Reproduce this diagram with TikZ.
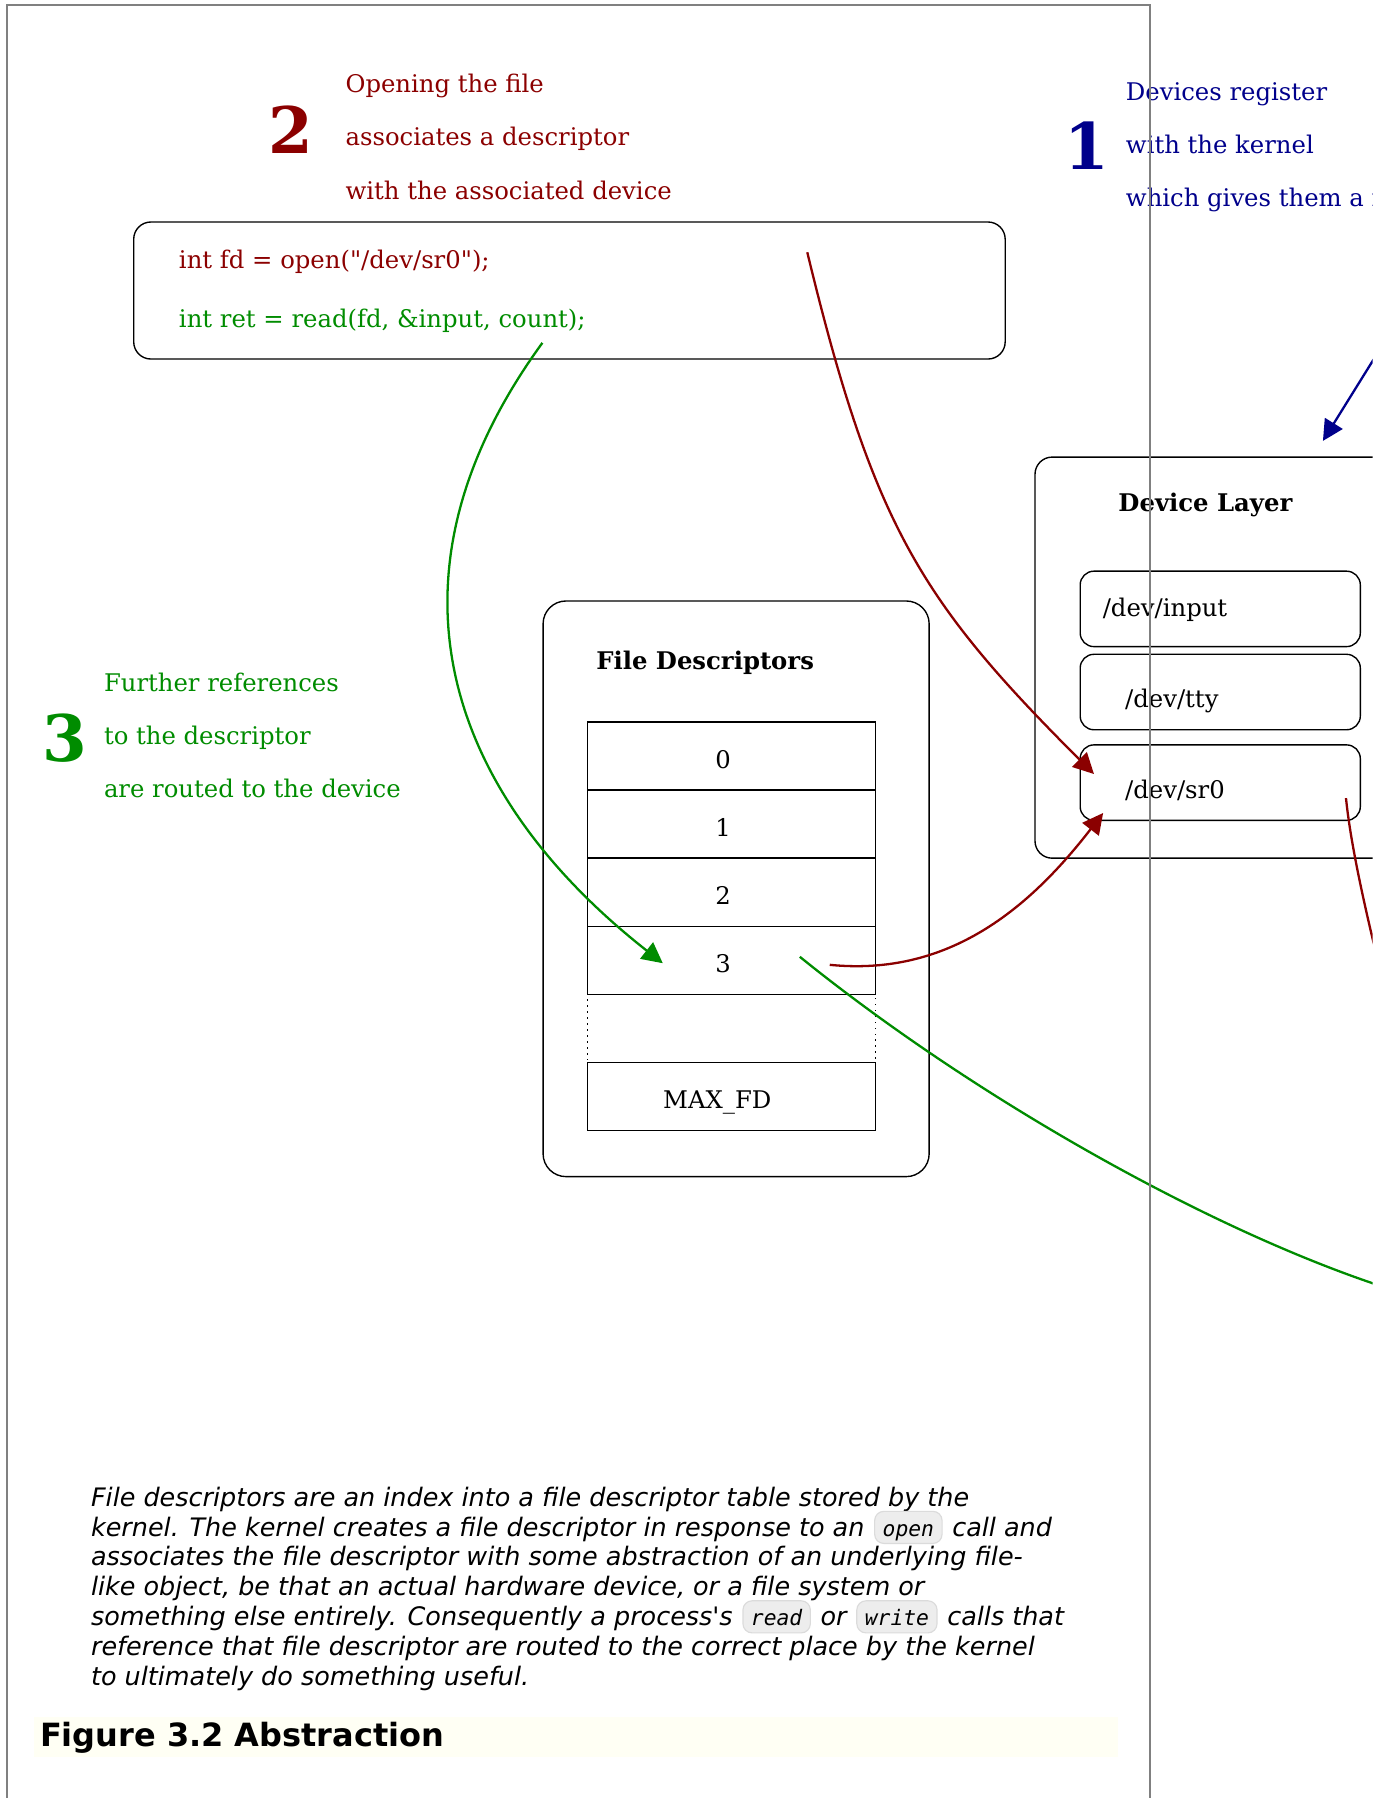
\documentclass[tikz,border=0pt]{standalone}
\usepackage{fontspec}
\setmainfont{DejaVu Serif}[Ligatures=TeXOff]
\setsansfont{DejaVu Sans}[Ligatures=TeXOff]
\setmonofont{DejaVu Sans Mono}[ItalicFont={DejaVu Sans Mono Oblique}]
\usetikzlibrary{arrows.meta}
\definecolor{openred}{HTML}{8B0000}
\definecolor{readgreen}{HTML}{008C00}
\definecolor{regblue}{HTML}{00008B}
\definecolor{framegray}{HTML}{808080}
\definecolor{captionbg}{HTML}{FFFFF4}

\begin{document}
\begin{tikzpicture}[x=0.5pt,y=-0.5pt,
  annot/.style={anchor=base west,inner sep=0pt,font=\fontsize{10.6}{12}\selectfont},
  title/.style={anchor=base west,inner sep=0pt,font=\fontsize{10.6}{12}\selectfont\bfseries},
  bignum/.style={anchor=base west,inner sep=0pt,font=\fontsize{28}{30}\selectfont\bfseries},
  panel/.style={draw,line width=0.6pt,anchor=north west,inner sep=0pt},
  devbox/.style={panel,rounded corners=6pt,minimum width=122.15pt,minimum height=32.9pt},
  fdrow/.style={draw,line width=0.6pt,minimum width=125.75pt,minimum height=29.7pt,inner sep=0pt,text height=10.7pt,text depth=0pt,font=\fontsize{10.6}{12}\selectfont},
  link/.style={line width=1pt,-{Triangle[length=9pt,width=9pt]}},
  para/.style={anchor=base west,inner sep=0pt,font=\sffamily\itshape\fontsize{11.1}{13}\selectfont},
  chip/.style={anchor=base west,draw=black!14,fill=black!7,line width=0.5pt,rounded corners=4pt,inner xsep=3.5pt,inner ysep=3.25pt,text height=7.5pt,text depth=0pt,font=\ttfamily\itshape\fontsize{9.3}{10}\selectfont}]
\useasboundingbox (0,0) rectangle (1197,1568);
\clip (0,0) rectangle (1197,1568);

\node[bignum,openred] (numopen) at (233.5,134) {2};
\foreach \t [count=\i from 0] in {Opening the file,associates a descriptor,with the associated device}
  \node[annot,openred] (open\i) at (301,{81+46.3*\i}) {\t};
\node[bignum,regblue] (numreg) at (928,147.6) {1};
\foreach \t [count=\i from 0] in {Devices register,with the kernel,which gives them a number}
  \node[annot,regblue] (reg\i) at (981.5,{88+46*\i}) {\t};
\node[bignum,readgreen] (numroute) at (37,663.7) {3};
\foreach \t [count=\i from 0] in {Further references,to the descriptor,are routed to the device}
  \node[annot,readgreen] (route\i) at (90.3,{603.4+46*\i}) {\t};

\node[panel,rounded corners=7.5pt,minimum width=380pt,minimum height=59.75pt] (code) at (116,193) {};
\node[annot,openred] (codeopen) at (155.7,234) {int fd = open("/dev/sr0");};
\node[annot,readgreen] (coderead) at (155.7,286) {int ret = read(fd, \&input, count);};

\node[panel,rounded corners=7.5pt,minimum width=209pt,minimum height=174.9pt] (devlayer) at (902,398) {};
\node[title] (devtitle) at (975,446) {Device Layer};
\node[devbox] (devinput) at (941.4,497.5) {};
\node[devbox] (devtty) at (941.4,570) {};
\node[devbox] (devsr) at (941.4,649) {};
\node[annot] (devinputname) at (961.3,538) {/dev/input};
\node[annot] (devttyname) at (980.8,617) {/dev/tty};
\node[annot] (devsrname) at (980.8,696) {/dev/sr0};

\node[panel,rounded corners=10pt,minimum width=168.35pt,minimum height=251pt] (fdtable) at (473,523.5) {};
\node[title] (fdtitle) at (519.6,583.5) {File Descriptors};
\foreach \i in {0,...,3}
  \node[fdrow] (fd\i) at (638,{659.3+59.4*\i}) {\i\kern7.5pt};
\node[fdrow,dotted] (fdgap) at (638,896.9) {};
\node[fdrow] (fdmax) at (638,956.3) {MAX\_FD\kern12.5pt};

\coordinate (openpt) at ([shift={(588,27)}]code.north west);
\coordinate (readpt) at ([shift={(357,106)}]code.north west);
\coordinate (fdin) at ([shift={(-60,2.5)}]fd3.center);
\coordinate (fdout) at ([shift={(85.6,3.9)}]fd3.center);
\coordinate (fdgo) at ([shift={(59.5,-3.1)}]fd3.center);
\coordinate (sropen) at ([shift={(12.6,26)}]devsr.north west);
\coordinate (srread) at ([shift={(20.6,60)}]devsr.north west);
\coordinate (srgo) at ([shift={(-13.1,47)}]devsr.north east);
\coordinate (regtip) at ([shift={(251.7,-13.5)}]devlayer.north west);
\coordinate (regfar) at (1223,273);
\coordinate (srfar) at (1212,880);
\coordinate (gofar) at (1215,1125);
\draw[link,openred] (openpt) .. controls +(58,240) and +(-150,-150) .. (sropen);
\draw[link,readgreen] (readpt) .. controls +(-153.4,210.6) and +(-181.7,-142.6) .. (fdin);
\draw[link,openred] (fdout) .. controls +(100,10) and +(-68,88) .. (srread);
\draw[line width=1pt,openred] (srgo) .. controls +(5,50) and +(-15,-60) .. (srfar);
\draw[line width=1pt,readgreen] (fdgo) .. controls +(156,126) and +(-152,-48) .. (gofar);
\draw[link,regblue] (regfar) -- (regtip);

\node[para] (par1) at (79,1313.5) {File descriptors are an index into a file descriptor table stored by the};
\node[para] (par2) at (79,1339.5) {kernel. The kernel creates a file descriptor in response to an};
\node[chip] (chipopen) at ([xshift=4pt]par2.base east) {open};
\node[para] (par2b) at ([xshift=4pt]chipopen.base east) {call and};
\node[para] (par3) at (79,1365.5) {associates the file descriptor with some abstraction of an underlying file-};
\node[para] (par4) at (79,1391.5) {like object, be that an actual hardware device, or a file system or};
\node[para] (par5) at (79,1417.5) {something else entirely. Consequently a process's};
\node[chip] (chipread) at ([xshift=4pt]par5.base east) {read};
\node[para] (par5b) at ([xshift=4pt]chipread.base east) {or};
\node[chip] (chipwrite) at ([xshift=4pt]par5b.base east) {write};
\node[para] (par5c) at ([xshift=4pt]chipwrite.base east) {calls that};
\node[para] (par6) at (79,1443.5) {reference that file descriptor are routed to the correct place by the kernel};
\node[para] (par7) at (79,1469.5) {to ultimately do something useful.};

\fill[captionbg] (30,1497) rectangle (975,1532);
\node[anchor=base west,inner sep=0pt,font=\sffamily\bfseries\fontsize{13.95}{16}\selectfont] (caption) at (34.5,1523) {Figure 3.2 Abstraction};

\draw[framegray,line width=0.85pt] (6,1580) |- (1003,4) -- (1003,1580);
\end{tikzpicture}
\end{document}
